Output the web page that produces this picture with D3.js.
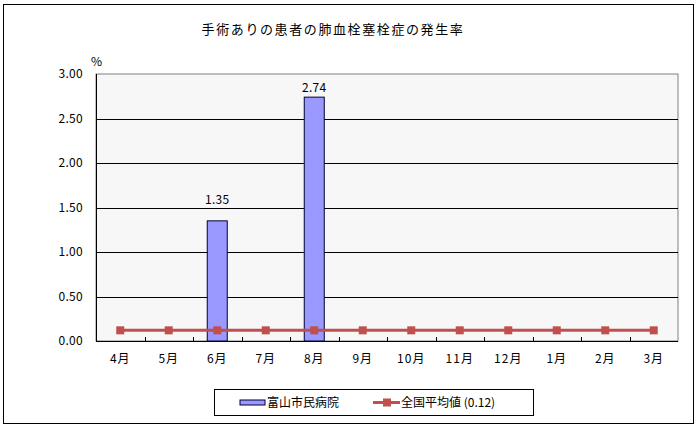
<!DOCTYPE html>
<html>
<head>
<meta charset="utf-8">
<script src="https://cdn.jsdelivr.net/npm/d3@7"></script>
<style>
  body { margin: 0; background: #fff; }
  text { font-family: "Noto Sans CJK JP", "DejaVu Sans", sans-serif; fill: #000; }
</style>
</head>
<body>
<div id="chart"></div>
<script>
const months = ["4月", "5月", "6月", "7月", "8月", "9月", "10月", "11月", "12月", "1月", "2月", "3月"];
const hospitalRates = [0, 0, 1.35, 0, 2.74, 0, 0, 0, 0, 0, 0, 0];
const nationalAvg = [0.12, 0.12, 0.12, 0.12, 0.12, 0.12, 0.12, 0.12, 0.12, 0.12, 0.12, 0.12];
const yTicks = [0, 0.5, 1.0, 1.5, 2.0, 2.5, 3.0];
const titleText = "手術ありの患者の肺血栓塞栓症の発生率";
const seriesNames = ["富山市民病院", "全国平均値 (0.12)"];

const W = 699, H = 428;
const plot = {left: 96, top: 74, right: 678, bottom: 341};

const svg = d3.select("#chart").append("svg")
    .attr("width", W)
    .attr("height", H);

// outer frame
svg.append("rect")
    .attr("x", 3.5).attr("y", 4.5)
    .attr("width", 690).attr("height", 419)
    .attr("fill", "#fff")
    .attr("stroke", "#000")
    .attr("stroke-width", 1);

svg.append("text")
    .attr("x", 333).attr("y", 34)
    .attr("text-anchor", "middle")
    .style("font-size", "13px")
    .style("letter-spacing", "1.6px")
    .text(titleText);

const x = d3.scaleBand()
    .domain(months)
    .range([plot.left, plot.right]);

const y = d3.scaleLinear()
    .domain([0, 3])
    .range([plot.bottom, plot.top]);

// plot background
svg.append("rect")
    .attr("x", plot.left).attr("y", plot.top)
    .attr("width", plot.right - plot.left)
    .attr("height", plot.bottom - plot.top)
    .attr("fill", "#f7f7f7")
    .attr("stroke", "#808080");

// gridlines
svg.selectAll(".grid")
    .data(yTicks.filter(d => d > 0 && d < 3))
    .enter().append("line")
    .attr("class", "grid")
    .attr("x1", plot.left).attr("x2", plot.right)
    .attr("y1", d => Math.round(y(d)) + 0.5)
    .attr("y2", d => Math.round(y(d)) + 0.5)
    .attr("stroke", "#000");

// y axis labels
svg.selectAll(".ylab")
    .data(yTicks)
    .enter().append("text")
    .attr("class", "ylab")
    .attr("x", 83)
    .attr("y", d => y(d) + 4)
    .attr("text-anchor", "end")
    .style("font-size", "12px")
    .style("letter-spacing", "0.3px")
    .text(d => d.toFixed(2));

svg.append("text")
    .attr("x", 91).attr("y", 66)
    .style("font-size", "12px")
    .text("%");

// bars
const barW = 20;
const barData = hospitalRates.map((v, i) => ({m: months[i], v: v})).filter(d => d.v > 0);
svg.selectAll(".bar")
    .data(barData)
    .enter().append("rect")
    .attr("class", "bar")
    .attr("x", d => x(d.m) + x.bandwidth() / 2 - barW / 2)
    .attr("y", d => y(d.v))
    .attr("width", barW)
    .attr("height", d => y(0) - y(d.v))
    .attr("fill", "#9999ff")
    .attr("stroke", "#000033")
    .attr("stroke-width", 1);

// labels sit well above the bar, unless that would leave the plot area
svg.selectAll(".barlab")
    .data(barData)
    .enter().append("text")
    .attr("class", "barlab")
    .attr("x", d => x(d.m) + x.bandwidth() / 2)
    .attr("y", d => (y(d.v) - 29 < plot.top) ? y(d.v) - 5 : y(d.v) - 17)
    .attr("text-anchor", "middle")
    .style("font-size", "12px")
    .style("letter-spacing", "0.3px")
    .text(d => d.v.toFixed(2));

// x axis line and ticks
svg.append("line")
    .attr("x1", plot.left).attr("x2", plot.right)
    .attr("y1", plot.bottom + 0.5).attr("y2", plot.bottom + 0.5)
    .attr("stroke", "#000");
svg.append("line")
    .attr("x1", plot.left + 0.5).attr("x2", plot.left + 0.5)
    .attr("y1", plot.top).attr("y2", plot.bottom)
    .attr("stroke", "#000");

svg.selectAll(".xtick")
    .data(months.slice(1))
    .enter().append("line")
    .attr("class", "xtick")
    .attr("x1", d => Math.round(x(d)) + 0.5)
    .attr("x2", d => Math.round(x(d)) + 0.5)
    .attr("y1", plot.bottom - 4).attr("y2", plot.bottom)
    .attr("stroke", "#000");

svg.selectAll(".xlab")
    .data(months)
    .enter().append("text")
    .attr("class", "xlab")
    .attr("x", d => x(d) + x.bandwidth() / 2)
    .attr("y", 363)
    .attr("text-anchor", "middle")
    .style("font-size", "12px")
    .style("letter-spacing", "1px")
    .text(d => d);

// national average line
const lineColor = "#c0504d";
const line = d3.line()
    .x((d, i) => x(months[i]) + x.bandwidth() / 2)
    .y(d => y(d));

svg.append("path")
    .datum(nationalAvg)
    .attr("d", line)
    .attr("fill", "none")
    .attr("stroke", lineColor)
    .attr("stroke-width", 3);

svg.selectAll(".mark")
    .data(nationalAvg)
    .enter().append("rect")
    .attr("class", "mark")
    .attr("x", (d, i) => x(months[i]) + x.bandwidth() / 2 - 4)
    .attr("y", d => y(d) - 4)
    .attr("width", 8).attr("height", 8)
    .attr("fill", lineColor);

// legend
const lg = svg.append("g");
lg.append("rect")
    .attr("x", 214.5).attr("y", 389.5)
    .attr("width", 319).attr("height", 26)
    .attr("fill", "#fff")
    .attr("stroke", "#000");
lg.append("rect")
    .attr("x", 240).attr("y", 400)
    .attr("width", 25).attr("height", 5)
    .attr("fill", "#9999ff")
    .attr("stroke", "#000033");
lg.append("text")
    .attr("x", 267).attr("y", 407)
    .style("font-size", "12px")
    .text(seriesNames[0]);
lg.append("line")
    .attr("x1", 373).attr("x2", 400)
    .attr("y1", 402.5).attr("y2", 402.5)
    .attr("stroke", lineColor)
    .attr("stroke-width", 3);
lg.append("rect")
    .attr("x", 383).attr("y", 398.5)
    .attr("width", 8).attr("height", 8)
    .attr("fill", lineColor);
lg.append("text")
    .attr("x", 401).attr("y", 407)
    .style("font-size", "12px")
    .text(seriesNames[1]);
</script>
</body>
</html>
